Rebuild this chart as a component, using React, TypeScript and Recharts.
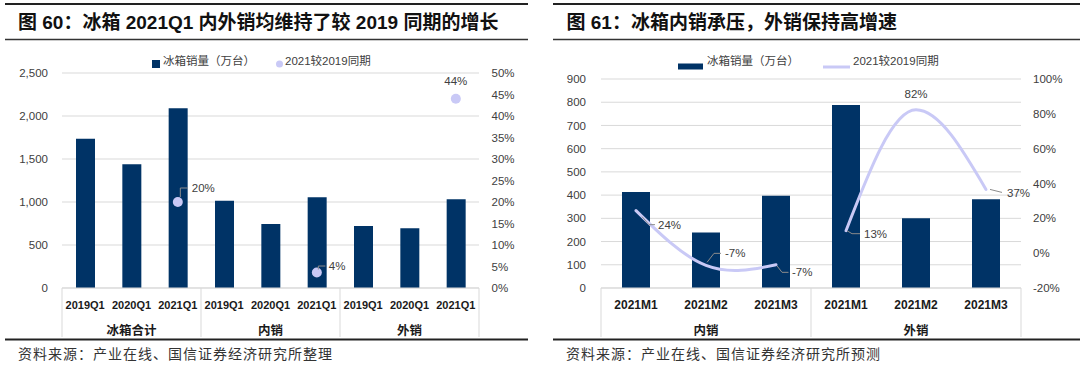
import React from 'react';
import { ComposedChart, Bar, Line, XAxis, YAxis, CartesianGrid } from 'recharts';

// ---------- Figure 60 data ----------
const quarterPeriods = ['2019Q1', '2020Q1', '2021Q1'];
const quarterGroups = ['冰箱合计', '内销', '外销'];
const quarterSales = [1735, 1438, 2089, 1015, 744, 1054, 721, 694, 1031];
const quarterGrowth = [null, null, 20, null, null, 3.6, null, null, 44];
const quarterLeftTicks = [0, 500, 1000, 1500, 2000, 2500];
const quarterRightTicks = [0, 5, 10, 15, 20, 25, 30, 35, 40, 45, 50];

// ---------- Figure 61 data ----------
const monthPeriods = ['2021M1', '2021M2', '2021M3'];
const monthGroups = ['内销', '外销'];
const monthSales = [413, 239, 397, 788, 300, 382];
const monthGrowthDomestic = [24.4, -7.0, -6.7, null, null, null];
const monthGrowthExport = [null, null, null, 12.9, 82.3, 36.6];
const monthLeftTicks = [0, 100, 200, 300, 400, 500, 600, 700, 800, 900];
const monthRightTicks = [-20, 0, 20, 40, 60, 80, 100];

// ---------- Texts ----------
const titleLeft = '图 60：冰箱 2021Q1 内外销均维持了较 2019 同期的增长';
const titleRight = '图 61：冰箱内销承压，外销保持高增速';
const sourceLeft = '资料来源：产业在线、国信证券经济研究所整理';
const sourceRight = '资料来源：产业在线、国信证券经济研究所预测';
const legendBar = '冰箱销量（万台）';
const legendGrowth = '2021较2019同期';

// ---------- Styles ----------
const NAVY = '#003366';
const LAVENDER = '#C9C9F6';
const GRID = '#D9D9D9';
const TEXT = '#404040';
const LEADER = '#8C8C8C';
const FONT = "'Liberation Sans', 'Noto Sans CJK SC', sans-serif";
const CJK = "'Noto Sans CJK SC', 'Liberation Sans', sans-serif";

type Placement = { dx: number; dy: number; anchor: 'start' | 'middle'; leader?: string } | null;

const quarterLabelPlacement: Placement[] = [
  null, null,
  { dx: 14, dy: -14, anchor: 'start', leader: 'M2.5,-5 V-14 H10' },
  null, null,
  { dx: 12, dy: -6.5, anchor: 'start', leader: 'M1.5,-3 V-6.5 H8.5' },
  null, null,
  { dx: 0, dy: -18, anchor: 'middle' },
];

const monthLabelPlacement: Placement[] = [
  { dx: 22, dy: 14, anchor: 'start', leader: 'M6,6 L13,14 H19' },
  { dx: 19, dy: -12, anchor: 'start', leader: 'M1,-3 L8,-12 H15' },
  { dx: 16, dy: 7.5, anchor: 'start', leader: 'M1,1 L6,7.5 H12.5' },
  { dx: 18, dy: 3.5, anchor: 'start', leader: 'M1,0 L6,3 H14' },
  { dx: 0, dy: -16, anchor: 'middle' },
  { dx: 21, dy: 3.5, anchor: 'start', leader: 'M4,0 L16,3' },
];

const quarterData = quarterSales.map((v, i) => ({
  key: `${quarterGroups[Math.floor(i / 3)]}-${quarterPeriods[i % 3]}`,
  period: quarterPeriods[i % 3],
  group: quarterGroups[Math.floor(i / 3)],
  sales: v,
  growth: quarterGrowth[i],
}));

const monthData = monthSales.map((v, i) => ({
  key: `${monthGroups[Math.floor(i / 3)]}-${monthPeriods[i % 3]}`,
  period: monthPeriods[i % 3],
  group: monthGroups[Math.floor(i / 3)],
  sales: v,
  domestic: monthGrowthDomestic[i],
  exportG: monthGrowthExport[i],
}));

const CW = 540;
const CH = 367;

function makeTick(data: any[], band: number, fontSize: number) {
  return (props: any) => {
    const { x, y, payload } = props;
    const i = payload.index;
    const d = data[i];
    if (!d) return <g />;
    const pos = i % 3;
    const n = data.length;
    return (
      <g>
        <text x={x} y={y + 16.5} textAnchor="middle" dominantBaseline="central" fontSize={fontSize}
          fontWeight="bold" fill="#1a1a1a" fontFamily={FONT}>{d.period}</text>
        {pos === 1 && (
          <text x={x} y={y + 41} textAnchor="middle" dominantBaseline="central" fontSize={12.5}
            fontWeight="bold" fill="#1a1a1a" fontFamily={CJK}>{d.group}</text>
        )}
        {pos === 0 && <line x1={x - band / 2} x2={x - band / 2} y1={y} y2={y + 49} stroke={GRID} strokeWidth={1} />}
        {i === n - 1 && <line x1={x + band / 2} x2={x + band / 2} y1={y} y2={y + 49} stroke={GRID} strokeWidth={1} />}
      </g>
    );
  };
}

function makePointRenderer(placements: Placement[], dataKey: string, showDot: boolean) {
  return (props: any) => {
    const { cx, cy, index, payload } = props;
    const k = `pt-${dataKey}-${index}`;
    const v = payload ? payload[dataKey] : null;
    if (cx == null || cy == null || v == null || Number.isNaN(cy)) return <g key={k} />;
    const p = placements[index];
    return (
      <g key={k} transform={`translate(${cx},${cy})`}>
        {showDot && <circle cx={0} cy={0} r={5} fill={LAVENDER} />}
        {p && p.leader && <path d={p.leader} fill="none" stroke={LEADER} strokeWidth={1} />}
        {p && (
          <text x={p.dx} y={p.dy} textAnchor={p.anchor} dominantBaseline="central" fontSize={11.5}
            fill={TEXT} fontFamily={FONT}>{`${Math.round(v)}%`}</text>
        )}
      </g>
    );
  };
}

const tickStyle = { fill: TEXT, fontSize: 11.5, fontFamily: FONT };

function QuarterChart() {
  const leftW = 62;
  const rightW = 61;
  const band = (CW - leftW - rightW) / quarterData.length;
  return (
    <ComposedChart width={CW} height={CH} data={quarterData} margin={{ top: 73, right: 0, bottom: 0, left: 0 }}>
      <CartesianGrid yAxisId="left" vertical={false} stroke={GRID} strokeWidth={1} />
      <XAxis dataKey="key" interval={0} tickLine={false} tickSize={0} tickMargin={0} height={79}
        axisLine={{ stroke: GRID }} tick={makeTick(quarterData, band, 11)} />
      <YAxis yAxisId="left" orientation="left" width={leftW} domain={[0, 2500]} ticks={quarterLeftTicks}
        tickFormatter={(v: number) => v.toLocaleString('en-US')} axisLine={false} tickLine={false}
        tickSize={0} tickMargin={14} tick={tickStyle} />
      <YAxis yAxisId="right" orientation="right" width={rightW} domain={[0, 50]} ticks={quarterRightTicks}
        tickFormatter={(v: number) => `${v}%`} axisLine={false} tickLine={false}
        tickSize={0} tickMargin={12.5} tick={tickStyle} />
      <Bar yAxisId="left" dataKey="sales" fill={NAVY} barSize={19} isAnimationActive={false} />
      <Line yAxisId="right" dataKey="growth" stroke="none" connectNulls={false} activeDot={false}
        dot={makePointRenderer(quarterLabelPlacement, 'growth', true)} isAnimationActive={false} />
    </ComposedChart>
  );
}

function MonthChart() {
  const leftW = 61;
  const rightW = 59;
  const band = (CW - leftW - rightW) / monthData.length;
  return (
    <ComposedChart width={CW} height={CH} data={monthData} margin={{ top: 79, right: 0, bottom: 0, left: 0 }}>
      <CartesianGrid yAxisId="left" vertical={false} stroke={GRID} strokeWidth={1} />
      <XAxis dataKey="key" interval={0} tickLine={false} tickSize={0} tickMargin={0} height={79}
        axisLine={{ stroke: GRID }} tick={makeTick(monthData, band, 12)} />
      <YAxis yAxisId="left" orientation="left" width={leftW} domain={[0, 900]} ticks={monthLeftTicks}
        axisLine={false} tickLine={false} tickSize={0} tickMargin={15} tick={tickStyle} />
      <YAxis yAxisId="right" orientation="right" width={rightW} domain={[-20, 100]} ticks={monthRightTicks}
        tickFormatter={(v: number) => `${v}%`} axisLine={false} tickLine={false}
        tickSize={0} tickMargin={12} tick={tickStyle} />
      <Bar yAxisId="left" dataKey="sales" fill={NAVY} barSize={28} isAnimationActive={false} />
      <Line yAxisId="right" type="natural" dataKey="domestic" stroke={LAVENDER} strokeWidth={3}
        strokeLinecap="round" connectNulls={false} activeDot={false}
        dot={makePointRenderer(monthLabelPlacement, 'domestic', false)} isAnimationActive={false} />
      <Line yAxisId="right" type="monotone" dataKey="exportG" stroke={LAVENDER} strokeWidth={3}
        strokeLinecap="round" connectNulls={false} activeDot={false}
        dot={makePointRenderer(monthLabelPlacement, 'exportG', false)} isAnimationActive={false} />
    </ComposedChart>
  );
}

function Overlay() {
  return (
    <svg width={1080} height={367} style={{ position: 'absolute', left: 0, top: 0, pointerEvents: 'none' }}>
      {/* left panel */}
      <line x1={5} x2={528} y1={4} y2={4} stroke="#222" strokeWidth={2} />
      <text x={18} y={22.5} dominantBaseline="central" fontSize={19} fontWeight="bold" fill="#111" fontFamily={FONT}>{titleLeft}</text>
      <line x1={5} x2={528} y1={39.5} y2={39.5} stroke="#333" strokeWidth={1.5} />
      <rect x={152} y={60} width={8} height={8} fill={NAVY} />
      <text x={163} y={61} dominantBaseline="central" fontSize={11.5} fill={TEXT} fontFamily={FONT}>{legendBar}</text>
      <circle cx={279.5} cy={64} r={3.5} fill={LAVENDER} />
      <text x={285} y={61} dominantBaseline="central" fontSize={11.5} fill={TEXT} fontFamily={FONT}>{legendGrowth}</text>
      <line x1={5} x2={528} y1={339.5} y2={339.5} stroke="#222" strokeWidth={2} />
      <text x={18} y={353} dominantBaseline="central" fontSize={14} letterSpacing={1} fill="#333" fontFamily={CJK}>{sourceLeft}</text>

      {/* right panel */}
      <line x1={553} x2={1080} y1={4} y2={4} stroke="#222" strokeWidth={2} />
      <text x={566.5} y={22.5} dominantBaseline="central" fontSize={19} fontWeight="bold" fill="#111" fontFamily={FONT}>{titleRight}</text>
      <line x1={553} x2={1080} y1={39.5} y2={39.5} stroke="#333" strokeWidth={1.5} />
      <rect x={678} y={63.5} width={25} height={6} fill={NAVY} />
      <text x={707} y={60.5} dominantBaseline="central" fontSize={11.5} fill={TEXT} fontFamily={FONT}>{legendBar}</text>
      <line x1={823} x2={850} y1={67} y2={67} stroke={LAVENDER} strokeWidth={3} />
      <text x={853} y={60.5} dominantBaseline="central" fontSize={11.5} fill={TEXT} fontFamily={FONT}>{legendGrowth}</text>
      <line x1={553} x2={1080} y1={339.5} y2={339.5} stroke="#222" strokeWidth={2} />
      <text x={566} y={353} dominantBaseline="central" fontSize={14} letterSpacing={1} fill="#333" fontFamily={CJK}>{sourceRight}</text>
    </svg>
  );
}

export default function App() {
  return (
    <div style={{ position: 'absolute', left: 0, top: 0, width: 1080, height: 367, background: '#fff', overflow: 'hidden' }}>
      <div style={{ position: 'absolute', left: 0, top: 0 }}>
        <QuarterChart />
      </div>
      <div style={{ position: 'absolute', left: 540, top: 0 }}>
        <MonthChart />
      </div>
      <Overlay />
    </div>
  );
}
